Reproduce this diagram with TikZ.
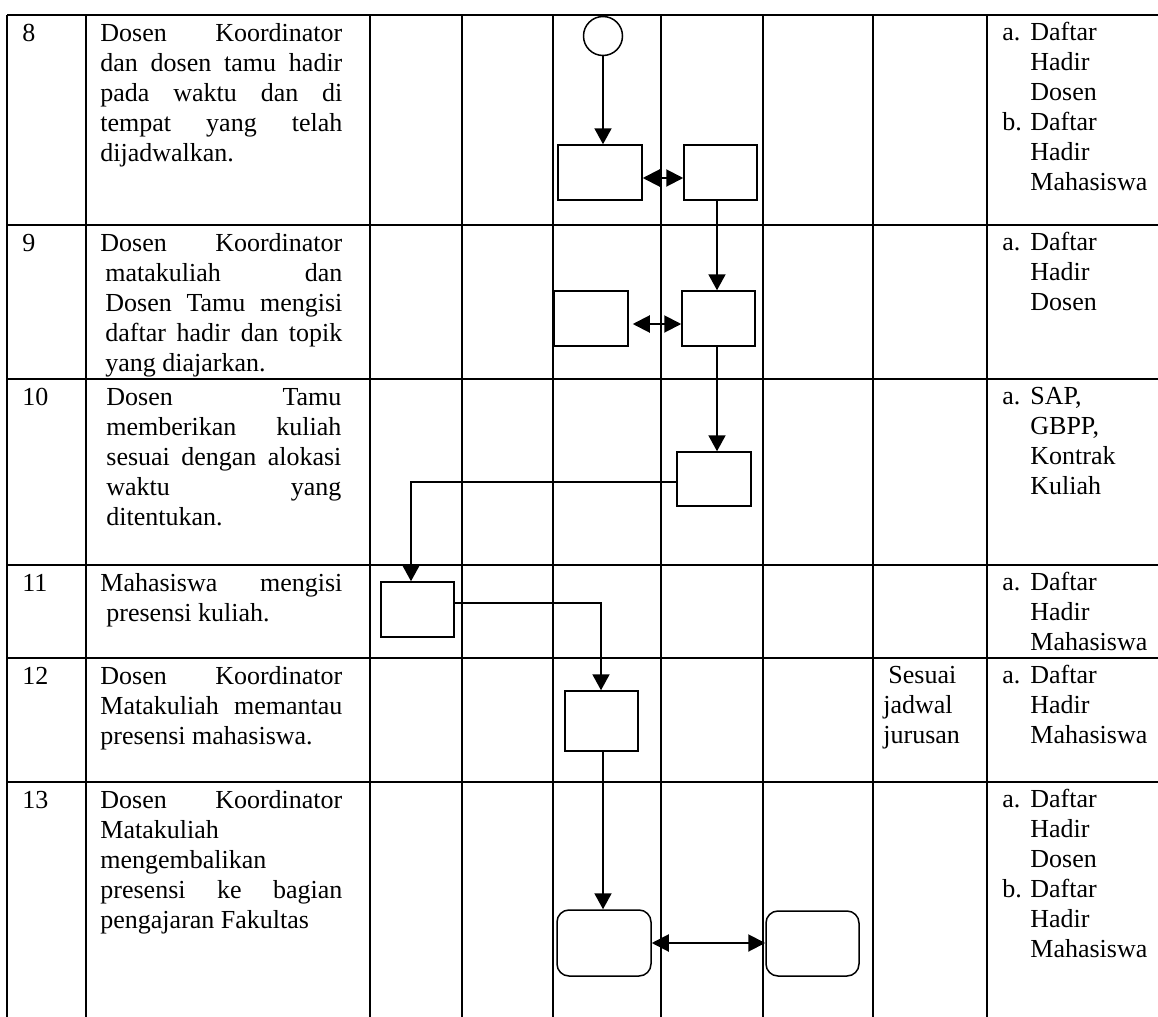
\documentclass[tikz,border=0pt]{standalone}
\usepackage{fontspec}
\setmainfont{Liberation Serif}
\usetikzlibrary{arrows.meta,calc}
\newcommand{\lbl}[1]{\makebox[14pt][l]{#1}}
\newcommand{\ind}{\hspace*{14pt}}
\begin{document}
\begin{tikzpicture}[x=0.5pt,y=-0.5pt,
  gridline/.style={line width=1pt},
  proc/.style={draw, line width=0.75pt, inner sep=0pt, rectangle},
  rproc/.style={proc, rounded corners=6pt},
  flow/.style={line width=1pt, -{Triangle[width=8.5pt,length=8pt]}},
  biflow/.style={line width=1pt, {Triangle[width=8.5pt,length=8.5pt]}-{Triangle[width=8.5pt,length=8.5pt]}},
  txt/.style={anchor=base west, inner sep=0pt, font=\fontsize{13pt}{15pt}\selectfont}]
\useasboundingbox (0,0) rectangle (1158,1017);

% table grid
\foreach \y in {15,225,379,565,658,782} \draw[gridline] (7,\y) -- (1158,\y);
\foreach \x in {7,86,370,462,553,661,763,873,987} \draw[gridline] (\x,15) -- (\x,1017);

% row numbers
\node[txt] (n8)  at (22,41)  {8};
\node[txt] (n9)  at (22,251) {9};
\node[txt] (n10) at (22,405) {10};
\node[txt] (n11) at (22,591) {11};
\node[txt] (n12) at (22,684) {12};
\node[txt] (n13) at (22,808) {13};

% descriptions
\node[txt] (d8) at (100,41) {\parbox[t]{121pt}{Dosen Koordinator\linebreak dan dosen tamu hadir\linebreak pada waktu dan di\linebreak tempat yang telah\linebreak dijadwalkan.}};
\node[txt] (d9) at (105,251) {\parbox[t]{118.5pt}{\hspace*{-2.5pt}Dosen Koordinator\linebreak matakuliah dan\linebreak Dosen Tamu mengisi\linebreak daftar hadir dan topik\linebreak yang diajarkan.}};
\node[txt] (d10) at (106,405) {\parbox[t]{117.5pt}{Dosen Tamu\linebreak memberikan kuliah\linebreak sesuai dengan alokasi\linebreak waktu yang\linebreak ditentukan.}};
\node[txt] (d11) at (106,591) {\parbox[t]{118pt}{\hspace*{-3pt}Mahasiswa mengisi\linebreak presensi kuliah.}};
\node[txt] (d12) at (100,684) {\parbox[t]{121pt}{Dosen Koordinator\linebreak Matakuliah memantau\linebreak presensi mahasiswa.}};
\node[txt] (d13) at (100,808) {\parbox[t]{121pt}{Dosen Koordinator\linebreak Matakuliah\\ mengembalikan\\ presensi ke bagian\linebreak pengajaran Fakultas}};

% right column
\node[txt] (r8t) at (1002,40) {\parbox[t]{78pt}{\lbl{a.}Daftar\\\ind Hadir\\\ind Dosen\\\lbl{b.}Daftar\\\ind Hadir\\\ind Mahasiswa}};
\node[txt] (r9t) at (1002,250) {\parbox[t]{78pt}{\lbl{a.}Daftar\\\ind Hadir\\\ind Dosen}};
\node[txt] (r10t) at (1002,404) {\parbox[t]{78pt}{\lbl{a.}SAP,\\\ind GBPP,\\\ind Kontrak\\\ind Kuliah}};
\node[txt] (r11t) at (1002,590) {\parbox[t]{78pt}{\lbl{a.}Daftar\\\ind Hadir\\\ind Mahasiswa}};
\node[txt] (r12t) at (1002,683) {\parbox[t]{78pt}{\lbl{a.}Daftar\\\ind Hadir\\\ind Mahasiswa}};
\node[txt] (r13t) at (1002,807) {\parbox[t]{78pt}{\lbl{a.}Daftar\\\ind Hadir\\\ind Dosen\\\lbl{b.}Daftar\\\ind Hadir\\\ind Mahasiswa}};
\node[txt] (s12) at (883,683) {\parbox[t]{52pt}{\hspace*{2.5pt}Sesuai\\jadwal\\jurusan}};

% flow shapes
\node[draw, circle, line width=0.75pt, minimum size=19.5pt, inner sep=0pt] (start) at (603,36) {};
\node[proc, minimum width=42pt,   minimum height=27.5pt] (b8a) at (600,172.5) {};
\node[proc, minimum width=36.5pt, minimum height=27.5pt] (b8b) at (720.5,172.5) {};
\node[proc, minimum width=37pt,   minimum height=27.5pt] (b9a) at (591,318.5) {};
\node[proc, minimum width=36.5pt, minimum height=27.5pt] (b9b) at (718.5,318.5) {};
\node[proc, minimum width=37pt,   minimum height=27pt]   (b10) at (714,479) {};
\node[proc, minimum width=36.5pt, minimum height=27.5pt] (b11) at (417.5,609.5) {};
\node[proc, minimum width=36.5pt, minimum height=30pt]   (b12) at (601.5,721) {};
\node[rproc, minimum width=47pt,  minimum height=33pt]   (r1)  at (604,943) {};
\node[rproc, minimum width=46.5pt, minimum height=32.5pt] (r2) at (812.5,943.5) {};

% guide coordinates for connector x positions
\coordinate (v1) at (717,0);
\coordinate (v2) at (411,0);
\coordinate (v3) at (601,0);
\coordinate (v4) at (603,0);

% connectors
\draw[flow] (start.south) -- (start.south |- b8a.north);
\draw[biflow] ([yshift=-2.75pt]b8a.east) -- ([yshift=-2.75pt]b8b.west);
\draw[flow] (b8b.south -| v1) -- (b9b.north -| v1);
\draw[biflow] ([xshift=2pt,yshift=-2.75pt]b9a.east) -- ([yshift=-2.75pt]b9b.west);
\draw[flow] (b9b.south -| v1) -- (b10.north -| v1);
\draw[flow] ([yshift=-1.5pt]b10.west) -| (b11.north -| v2);
\draw[flow] ([yshift=3.25pt]b11.east) -| (b12.north -| v3);
\draw[flow] (b12.south -| v4) -- (r1.north -| v4);
\draw[biflow] (r1.east) -- (r1.east -| r2.west);
\end{tikzpicture}
\end{document}
